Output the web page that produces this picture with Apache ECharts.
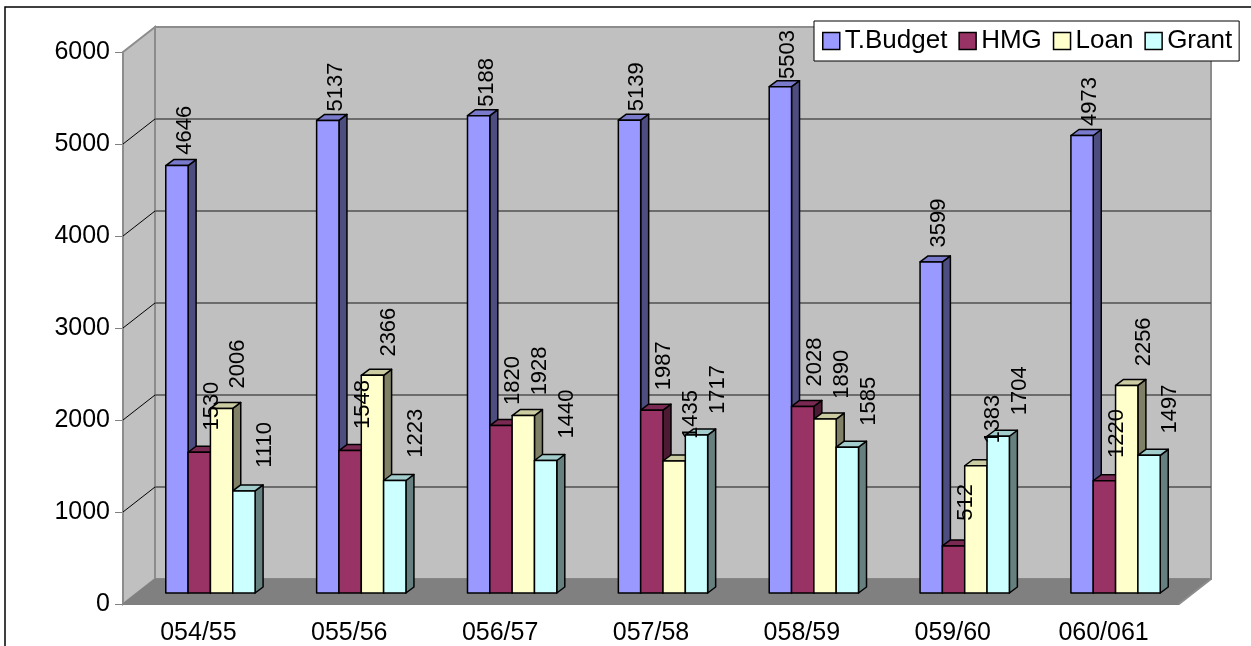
<!DOCTYPE html>
<html>
<head>
<meta charset="utf-8">
<script src="https://cdn.jsdelivr.net/npm/echarts@6/dist/echarts.min.js"></script>
<style>
html,body{margin:0;padding:0;background:#fff;}
#chart{width:1251px;height:646px;}
</style>
</head>
<body>
<div id="chart"></div>
<script>
var categories = ['054/55','055/56','056/57','057/58','058/59','059/60','060/061'];
var budget = [4646, 5137, 5188, 5139, 5503, 3599, 4973];
var hmg    = [1530, 1548, 1820, 1987, 2028, 512, 1220];
var loan   = [2006, 2366, 1928, 1435, 1890, 1383, 2256];
var grant  = [1110, 1223, 1440, 1717, 1585, 1704, 1497];
var yTicks = [0, 1000, 2000, 3000, 4000, 5000, 6000];
var seriesNames = ['T.Budget', 'HMG', 'Loan', 'Grant'];

var faceColors = ['#9999ff', '#993366', '#ffffcc', '#ccffff'];
var topColors  = ['#7a7acc', '#7a2952', '#cccca3', '#a3cccc'];
var sideColors = ['#4d4d80', '#4d1a33', '#808066', '#668080'];
var FONT = '"Liberation Sans", Arial, sans-serif';
var DEPTH = [32, -25];    // back wall offset
var BAR_OFF = [12, -11];  // bars stand part way into the floor
var BAR_DEPTH = [8, -6];

function renderWalls(params, api) {
    var cs = params.coordSys;
    var x0 = cs.x, x1 = cs.x + cs.width, yT = cs.y, yB = cs.y + cs.height;
    var dx = DEPTH[0], dy = DEPTH[1];
    var kids = [];
    kids.push({type: 'rect', shape: {x: x0 + dx, y: yT + dy, width: cs.width, height: cs.height},
        style: {fill: '#c0c0c0', stroke: '#8c8c8c', lineWidth: 2}});
    kids.push({type: 'polygon', shape: {points: [[x0, yT], [x0 + dx, yT + dy], [x0 + dx, yB + dy], [x0, yB]]},
        style: {fill: '#c0c0c0', stroke: '#8c8c8c', lineWidth: 2}});
    kids.push({type: 'polygon', shape: {points: [[x0, yB], [x0 + dx, yB + dy], [x1 + dx, yB + dy], [x1, yB]]},
        style: {fill: '#808080', stroke: '#808080', lineWidth: 1}});
    yTicks.forEach(function (v) {
        if (v === 0 || v === 6000) return;
        var y = api.coord([0, v])[1];
        kids.push({type: 'line', shape: {x1: x0 + dx, y1: y + dy, x2: x1 + dx, y2: y + dy},
            style: {stroke: '#505050', lineWidth: 1.3}});
        kids.push({type: 'line', shape: {x1: x0, y1: y, x2: x0 + dx, y2: y + dy},
            style: {stroke: '#000', lineWidth: 1}});
    });
    // right floor edge
    kids.push({type: 'line', shape: {x1: x1, y1: yB, x2: x1 + dx, y2: yB + dy},
        style: {stroke: '#8c8c8c', lineWidth: 2}});
    return {type: 'group', children: kids};
}

function barRenderer(s) {
    return function (params, api) {
        var cat = api.value(0), v = api.value(1);
        var base = api.coord([cat, 0]);
        var top = api.coord([cat, v]);
        var band = api.size([1, 0])[0];
        var w = band * 0.148;
        var x = base[0] - 2 * w + s * w + BAR_OFF[0];
        var yb = base[1] + BAR_OFF[1];
        var yt = top[1] + BAR_OFF[1];
        var ddx = BAR_DEPTH[0], ddy = BAR_DEPTH[1];
        var edge = {stroke: '#000', lineWidth: 1.5, lineJoin: 'round'};
        var gap = 6 + (6000 - v) * 0.0035;
        return {type: 'group', children: [
            {type: 'polygon', shape: {points: [[x + w, yt], [x + w + ddx, yt + ddy], [x + w + ddx, yb + ddy], [x + w, yb]]},
                style: Object.assign({fill: sideColors[s]}, edge)},
            {type: 'polygon', shape: {points: [[x, yt], [x + ddx, yt + ddy], [x + w + ddx, yt + ddy], [x + w, yt]]},
                style: Object.assign({fill: topColors[s]}, edge)},
            {type: 'rect', shape: {x: x, y: yt, width: w, height: yb - yt},
                style: Object.assign({fill: faceColors[s]}, edge)},
            {type: 'text', x: x + 19 + s * 4.5, y: yt - gap, rotation: Math.PI / 2, z2: 100,
                style: {text: String(v), fontSize: 22, fontFamily: FONT, fill: '#000',
                    align: 'left', verticalAlign: 'middle'}}
        ]};
    };
}

var allValues = [budget, hmg, loan, grant];
var series = [{
    type: 'custom', name: 'walls', silent: true, clip: false, z: 1,
    renderItem: renderWalls, data: [[0, 0]]
}];
allValues.forEach(function (vals, s) {
    series.push({
        type: 'custom', name: seriesNames[s], silent: true, clip: false, z: 2,
        itemStyle: {color: faceColors[s]},
        renderItem: barRenderer(s),
        encode: {x: 0, y: 1},
        data: vals.map(function (v, i) { return [i, v]; })
    });
});

var myChart = echarts.init(document.getElementById('chart'));
var option = {
    animation: false,
    backgroundColor: '#fff',
    textStyle: {fontFamily: FONT},
    grid: {left: 123, right: 72, top: 52, bottom: 42},
    legend: {
        data: seriesNames, icon: 'rect', left: 814, top: 21,
        padding: [7, 7, 7, 8], itemWidth: 17, itemHeight: 17, itemGap: 11,
        backgroundColor: '#fff', borderColor: '#000', borderWidth: 1,
        itemStyle: {borderColor: '#000', borderWidth: 1.5},
        textStyle: {fontSize: 26, color: '#000', fontFamily: FONT}
    },
    xAxis: {
        type: 'category', data: categories,
        axisLine: {lineStyle: {color: '#555', width: 1.5}},
        axisTick: {length: 9, lineStyle: {color: '#555'}},
        axisLabel: {fontSize: 25, color: '#000', margin: 17, fontFamily: FONT},
        splitLine: {show: false}
    },
    yAxis: {
        type: 'value', min: 0, max: 6000, interval: 1000,
        axisLine: {show: true, lineStyle: {color: '#808080', width: 1.5}},
        axisTick: {show: true, length: 8, lineStyle: {color: '#808080'}},
        axisLabel: {fontSize: 25, color: '#000', margin: 13, fontFamily: FONT,
            formatter: function (v) { return String(v); }},
        splitLine: {show: false}
    },
    graphic: [{
        type: 'rect', silent: true,
        shape: {x: 5, y: 7, width: 1400, height: 800},
        style: {fill: null, stroke: '#000', lineWidth: 1.5}
    }],
    series: series
};
if (option && typeof option === "object") {
    myChart.setOption(option, true);
}
</script>
</body>
</html>
